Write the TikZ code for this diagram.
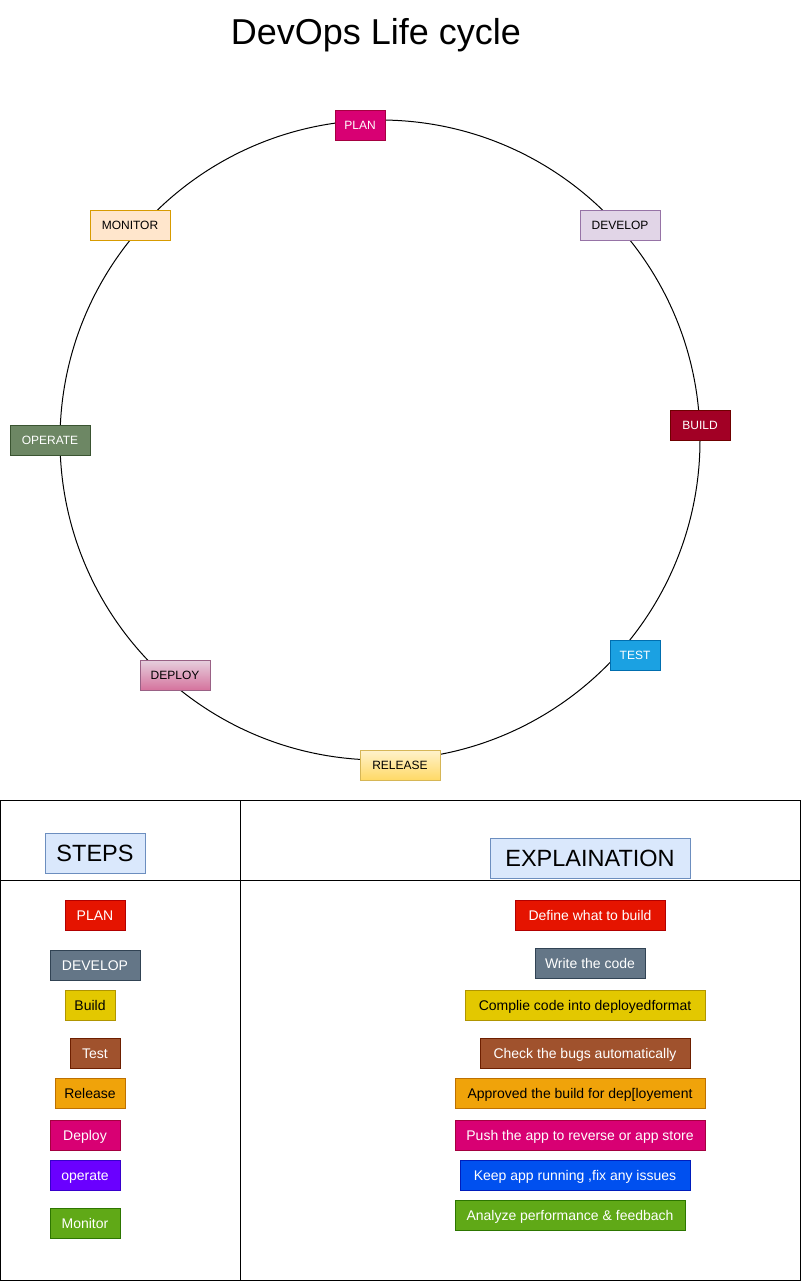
\documentclass[tikz,border=0pt]{standalone}
\usepackage{fontspec}
\setmainfont{Liberation Sans}
\definecolor{cPlanF}{HTML}{D80073}\definecolor{cPlanD}{HTML}{A50040}
\definecolor{cDevF}{HTML}{E1D5E7}\definecolor{cDevD}{HTML}{9673A6}
\definecolor{cMonF}{HTML}{FFE6CC}\definecolor{cMonD}{HTML}{D79B00}
\definecolor{cOpF}{HTML}{6D8764}\definecolor{cOpD}{HTML}{3A5431}
\definecolor{cBuF}{HTML}{A20025}\definecolor{cBuD}{HTML}{6F0000}
\definecolor{cTeF}{HTML}{1BA1E2}\definecolor{cTeD}{HTML}{006EAF}
\definecolor{cDeT}{HTML}{E6D0DE}\definecolor{cDeB}{HTML}{D5739D}\definecolor{cDeD}{HTML}{996185}
\definecolor{cReT}{HTML}{FFF2CC}\definecolor{cReB}{HTML}{FFD966}\definecolor{cReD}{HTML}{D6B656}
\definecolor{cHdF}{HTML}{DAE8FC}\definecolor{cHdD}{HTML}{6C8EBF}
\definecolor{cRedF}{HTML}{E51400}\definecolor{cRedD}{HTML}{B20000}
\definecolor{cSlF}{HTML}{647687}\definecolor{cSlD}{HTML}{314354}
\definecolor{cYeF}{HTML}{E3C800}\definecolor{cYeD}{HTML}{B09500}
\definecolor{cBrF}{HTML}{A0522D}\definecolor{cBrD}{HTML}{6D1F00}
\definecolor{cOrF}{HTML}{F0A30A}\definecolor{cOrD}{HTML}{BD7000}
\definecolor{cViF}{HTML}{6A00FF}\definecolor{cViD}{HTML}{3700CC}
\definecolor{cGrF}{HTML}{60A917}\definecolor{cGrD}{HTML}{2D7600}
\definecolor{cBlF}{HTML}{0050EF}\definecolor{cBlD}{HTML}{001DBC}
\begin{document}
\begin{tikzpicture}[x=1pt,y=-1pt,
  base/.style={draw, line width=1pt, inner sep=0pt, minimum height=30pt, text depth=0pt},
  cyc/.style={base, font=\fontsize{12}{14}\selectfont, text height=8.6pt},
  tb/.style={base, font=\fontsize{14}{16}\selectfont, text height=10pt},
  hd/.style={draw=cHdD, fill=cHdF, line width=1pt, inner sep=0pt, minimum height=40pt, text height=16.8pt, text depth=0pt, font=\fontsize{23.5}{26}\selectfont},
  wt/.style={text=white},
  frame/.style={draw=black, line width=1pt}]
\useasboundingbox (0,0) rectangle (802,1282);
% title
\node[font=\fontsize{36}{40}\selectfont, inner sep=0pt, text height=25.8pt, text depth=0pt] (title) at (376,32) {DevOps Life cycle};
% cycle
\draw[line width=1pt] (380,440) circle[radius=320pt];
\node[cyc, wt, fill=cPlanF, draw=cPlanD, minimum width=50pt] (plan) at (360,125) {PLAN};
\node[cyc, fill=cDevF, draw=cDevD, minimum width=80pt] (develop) at (620,225) {DEVELOP};
\node[cyc, fill=cMonF, draw=cMonD, minimum width=80pt] (monitor) at (130,225) {MONITOR};
\node[cyc, wt, fill=cOpF, draw=cOpD, minimum width=80pt] (operate) at (50,440) {OPERATE};
\node[cyc, wt, fill=cBuF, draw=cBuD, minimum width=60pt] (build) at (700,425) {BUILD};
\node[cyc, wt, fill=cTeF, draw=cTeD, minimum width=50pt] (test) at (635,655) {TEST};
\node[cyc, top color=cDeT, bottom color=cDeB, draw=cDeD, minimum width=70pt] (deploy) at (175,675) {DEPLOY};
\node[cyc, top color=cReT, bottom color=cReB, draw=cReD, minimum width=80pt] (release) at (400,765) {RELEASE};
% table
\draw[frame] (0.5,800.5) rectangle (800.5,1280.5);
\draw[frame] (240.5,800.5) -- (240.5,1280.5);
\draw[frame] (0.5,880.5) -- (800.5,880.5);
\node[hd, minimum width=100pt] (steps) at (95,853) {STEPS};
\node[hd, minimum width=200pt] (expl) at (590,858) {EXPLAINATION};
% steps
\node[tb, wt, fill=cRedF, draw=cRedD, minimum width=60pt] (s1) at (95,915) {PLAN};
\node[tb, wt, fill=cSlF, draw=cSlD, minimum width=90pt] (s2) at (95,965) {DEVELOP};
\node[tb, fill=cYeF, draw=cYeD, minimum width=50pt] (s3) at (90,1005) {Build};
\node[tb, wt, fill=cBrF, draw=cBrD, minimum width=50pt] (s4) at (95,1053) {Test};
\node[tb, fill=cOrF, draw=cOrD, minimum width=70pt] (s5) at (90,1093) {Release};
\node[tb, wt, fill=cPlanF, draw=cPlanD, minimum width=70pt] (s6) at (85,1135) {Deploy};
\node[tb, wt, fill=cViF, draw=cViD, minimum width=70pt] (s7) at (85,1175) {operate};
\node[tb, wt, fill=cGrF, draw=cGrD, minimum width=70pt] (s8) at (85,1223) {Monitor};
% explanations
\node[tb, wt, fill=cRedF, draw=cRedD, minimum width=150pt] (e1) at (590,915) {Define what to build};
\node[tb, wt, fill=cSlF, draw=cSlD, minimum width=110pt] (e2) at (590,963) {Write the code};
\node[tb, fill=cYeF, draw=cYeD, minimum width=240pt] (e3) at (585,1005) {Complie code into deployedformat};
\node[tb, wt, fill=cBrF, draw=cBrD, minimum width=210pt] (e4) at (585,1053) {Check the bugs automatically};
\node[tb, fill=cOrF, draw=cOrD, minimum width=250pt] (e5) at (580,1093) {Approved the build for dep[loyement};
\node[tb, wt, fill=cPlanF, draw=cPlanD, minimum width=250pt] (e6) at (580,1135) {Push the app to reverse or app store};
\node[tb, wt, fill=cBlF, draw=cBlD, minimum width=230pt] (e7) at (575,1175) {Keep app running ,fix any issues};
\node[tb, wt, fill=cGrF, draw=cGrD, minimum width=230pt] (e8) at (570,1215) {Analyze performance \& feedbach};
\end{tikzpicture}
\end{document}
